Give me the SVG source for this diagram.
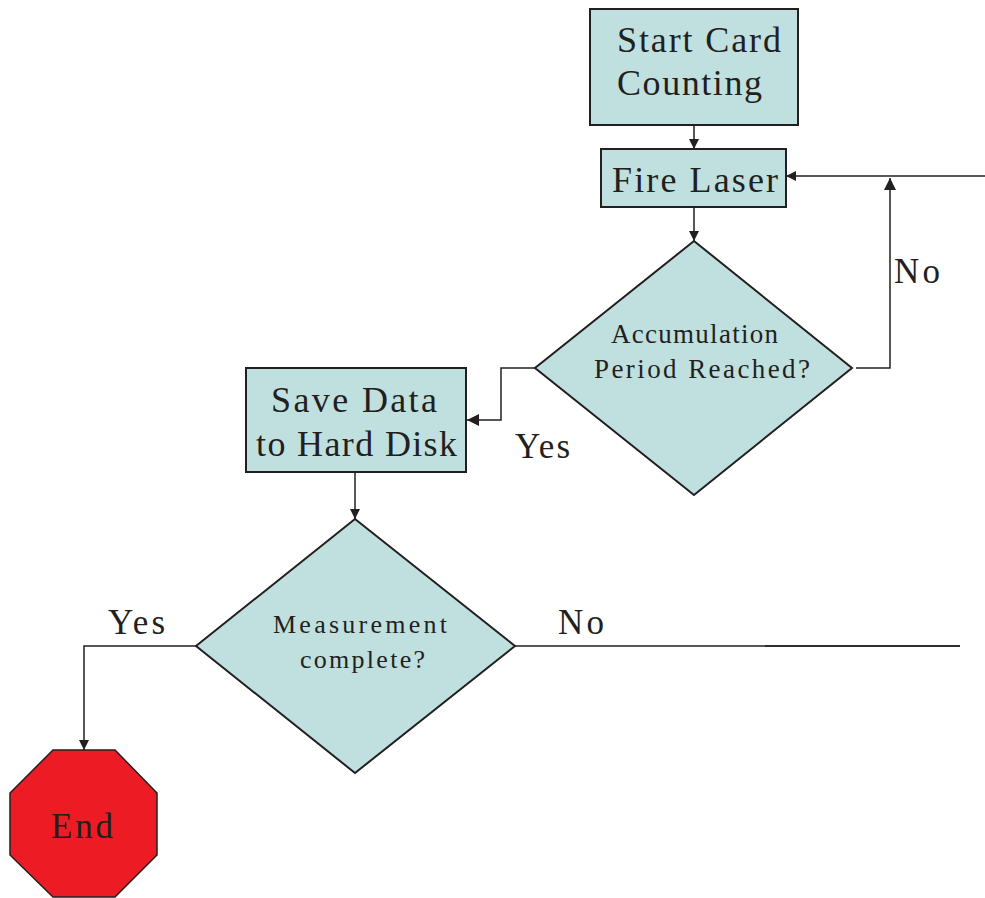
<svg xmlns="http://www.w3.org/2000/svg" width="985" height="898" viewBox="0 0 985 898">
<style>
.box{fill:#bfe0df;stroke:#231f20;stroke-width:2}
.end{fill:#ed1c24;stroke:#231f20;stroke-width:1.5}
.t{font-family:"Liberation Serif","Times New Roman",serif;fill:#231f20}
.c{fill:none;stroke:#231f20;stroke-width:1.5}
</style>
<defs>
<marker id="ah" viewBox="0 0 10 10" refX="10" refY="5" markerWidth="10" markerHeight="10" markerUnits="userSpaceOnUse" orient="auto">
<path d="M0,0 L10,5 L0,10 z" fill="#231f20"/>
</marker>
<marker id="ah2" viewBox="0 0 10 10" refX="10" refY="5" markerWidth="12" markerHeight="12" markerUnits="userSpaceOnUse" orient="auto">
<path d="M0,0 L10,5 L0,10 z" fill="#231f20"/>
</marker>
</defs>
<rect width="985" height="898" fill="#fff"/>
<g id="start">
<rect class="box" x="590" y="9" width="208" height="116"/>
<text class="t" x="617" y="52" font-size="36" textLength="164" lengthAdjust="spacing">Start Card</text>
<text class="t" x="617" y="95" font-size="36" textLength="145" lengthAdjust="spacing">Counting</text>
</g>
<g id="fire">
<rect class="box" x="601" y="149" width="185" height="58"/>
<text class="t" x="612" y="192" font-size="36" textLength="166" lengthAdjust="spacing">Fire Laser</text>
</g>
<g id="accum">
<polygon class="box" stroke-width="1.5" points="694,241 852,368 694,495 535,368"/>
<text class="t" x="611" y="343" font-size="27" textLength="167" lengthAdjust="spacing">Accumulation</text>
<text class="t" x="594" y="378" font-size="27" textLength="216" lengthAdjust="spacing">Period Reached?</text>
</g>
<g id="save">
<rect class="box" x="246" y="368" width="220" height="104"/>
<text class="t" x="271" y="412" font-size="36" textLength="166" lengthAdjust="spacing">Save Data</text>
<text class="t" x="256" y="456" font-size="36" textLength="201" lengthAdjust="spacing">to Hard Disk</text>
</g>
<g id="measure">
<polygon class="box" stroke-width="1.5" points="355,519 515,646 355,773 196,646"/>
<text class="t" x="273" y="633" font-size="26" textLength="174" lengthAdjust="spacing">Measurement</text>
<text class="t" x="300" y="668" font-size="26" textLength="125" lengthAdjust="spacing">complete?</text>
</g>
<g id="endnode">
<polygon class="end" points="53,750 115,750 157,793 157,855 115,897 53,897 10,855 10,793"/>
<text class="t" x="51" y="838" font-size="35" textLength="62" lengthAdjust="spacing">End</text>
</g>
<g id="connectors">
<line class="c" x1="694" y1="125" x2="694" y2="149" marker-end="url(#ah)"/>
<line class="c" x1="694" y1="207" x2="694" y2="241" marker-end="url(#ah)"/>
<line class="c" x1="985" y1="176" x2="786" y2="176" marker-end="url(#ah)"/>
<polyline class="c" points="856,368 890,368 890,178" marker-end="url(#ah2)"/>
<polyline class="c" points="535,368 501,368 501,420 467,420" marker-end="url(#ah2)"/>
<line class="c" x1="355" y1="472" x2="355" y2="519" marker-end="url(#ah)"/>
<polyline class="c" points="196,646 84,646 84,750" marker-end="url(#ah)"/>
<line class="c" x1="515" y1="646" x2="960" y2="646"/>
<line class="c" stroke-width="2" x1="765" y1="646" x2="960" y2="646"/>
<text class="t" x="515" y="458" font-size="35" textLength="55" lengthAdjust="spacing">Yes</text>
<text class="t" x="894" y="283" font-size="35" textLength="46" lengthAdjust="spacing">No</text>
<text class="t" x="108" y="634" font-size="35" textLength="57" lengthAdjust="spacing">Yes</text>
<text class="t" x="558" y="634" font-size="35" textLength="46" lengthAdjust="spacing">No</text>
</g>
</svg>
